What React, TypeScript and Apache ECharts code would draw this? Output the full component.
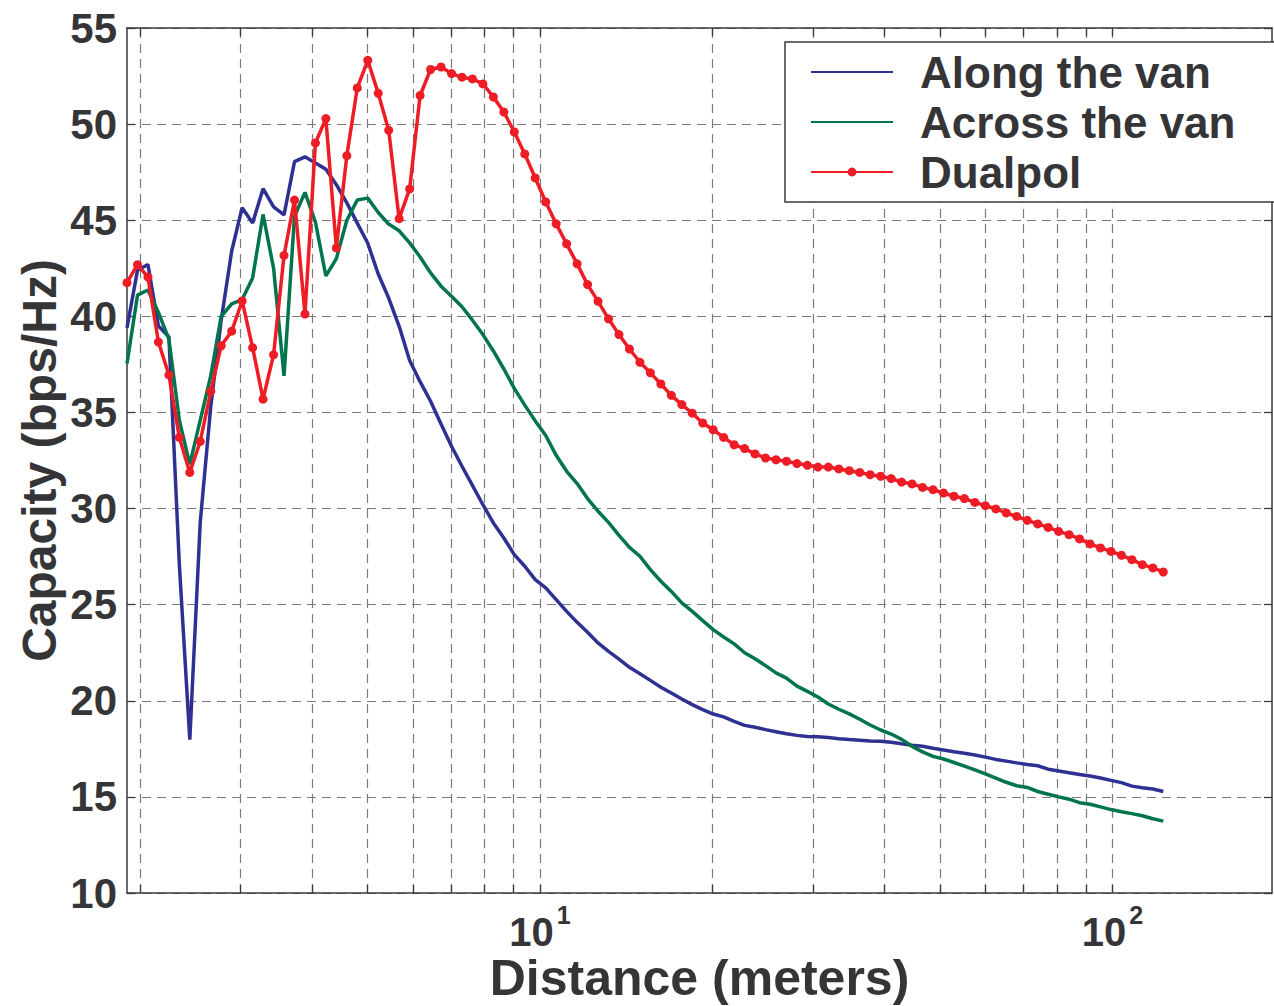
import React, { useEffect, useRef } from "react";
import * as echarts from "echarts";

// Sample distances (m) (log-spaced grid)
const distanceMeters = [
  1.9, 1.982, 2.067, 2.156, 2.249, 2.345, 2.446, 2.551, 2.661, 2.775,
  2.895, 3.019, 3.149, 3.284, 3.426, 3.573, 3.727, 3.887, 4.054, 4.228,
  4.41, 4.6, 4.797, 5.004, 5.219, 5.443, 5.677, 5.922, 6.176, 6.442,
  6.719, 7.008, 7.309, 7.623, 7.951, 8.293, 8.65, 9.021, 9.409, 9.814,
  10.236, 10.676, 11.135, 11.614, 12.113, 12.634, 13.177, 13.744, 14.335, 14.951,
  15.594, 16.265, 16.964, 17.694, 18.455, 19.248, 20.076, 20.939, 21.84, 22.779,
  23.758, 24.78, 25.845, 26.957, 28.116, 29.325, 30.586, 31.901, 33.273, 34.704,
  36.196, 37.752, 39.376, 41.069, 42.835, 44.677, 46.598, 48.602, 50.692, 52.871,
  55.145, 57.516, 59.989, 62.569, 65.259, 68.065, 70.992, 74.045, 77.229, 80.55,
  84.014, 87.626, 91.394, 95.324, 99.423, 103.7, 108.16, 112.81, 117.66, 122.72,
];

const alongTheVan = [
  39.4, 42.4, 42.7, 39.5, 38.93, 27.1, 17.98, 29.3, 35.3, 39.8,
  43.4, 45.65, 44.86, 46.64, 45.7, 45.28, 48.05, 48.3, 47.98, 47.65,
  46.85, 45.9, 44.85, 43.8, 42.2, 40.95, 39.48, 37.7, 36.6, 35.58,
  34.4, 33.24, 32.2, 31.21, 30.2, 29.25, 28.47, 27.6, 27.0, 26.3,
  25.87, 25.26, 24.65, 24.08, 23.56, 23.01, 22.57, 22.17, 21.74, 21.41,
  21.06, 20.7, 20.4, 20.09, 19.8, 19.54, 19.31, 19.16, 18.93, 18.72,
  18.62, 18.5, 18.39, 18.28, 18.2, 18.14, 18.13, 18.09, 18.02, 17.98,
  17.95, 17.91, 17.9, 17.84, 17.76, 17.69, 17.63, 17.53, 17.44, 17.35,
  17.27, 17.18, 17.07, 16.95, 16.86, 16.77, 16.69, 16.62, 16.44, 16.35,
  16.26, 16.16, 16.09, 15.98, 15.86, 15.74, 15.56, 15.48, 15.41, 15.28,
];

const acrossTheVan = [
  37.55, 41.1, 41.37, 40.2, 38.8, 34.6, 32.3, 34.6, 36.9, 40.0,
  40.65, 40.87, 42.0, 45.3, 42.5, 36.9, 45.2, 46.45, 44.9, 42.1,
  43.0, 45.0, 46.05, 46.15, 45.4, 44.8, 44.45, 43.82, 43.09, 42.26,
  41.57, 41.05, 40.5, 39.8, 39.05, 38.2, 37.26, 36.25, 35.38, 34.56,
  33.8, 32.77, 31.94, 31.3, 30.52, 29.86, 29.28, 28.61, 27.98, 27.52,
  26.82, 26.22, 25.69, 25.09, 24.65, 24.17, 23.7, 23.32, 22.96, 22.5,
  22.19, 21.83, 21.45, 21.18, 20.76, 20.49, 20.2, 19.83, 19.56, 19.32,
  19.04, 18.74, 18.48, 18.27, 17.99, 17.63, 17.34, 17.11, 16.97, 16.79,
  16.6, 16.41, 16.2, 15.98, 15.76, 15.58, 15.49, 15.28, 15.14, 15.0,
  14.88, 14.7, 14.62, 14.48, 14.34, 14.23, 14.13, 14.02, 13.86, 13.74,
];

const dualpol = [
  41.75, 42.69, 42.04, 38.66, 36.95, 33.7, 31.88, 33.49, 36.1, 38.47,
  39.23, 40.8, 38.37, 35.69, 38.0, 43.17, 46.05, 40.12, 49.02, 50.29,
  43.56, 48.36, 51.88, 53.32, 51.6, 49.68, 45.08, 46.63, 51.49, 52.84,
  52.97, 52.63, 52.44, 52.35, 52.09, 51.41, 50.63, 49.59, 48.45, 47.2,
  45.95, 44.81, 43.77, 42.73, 41.65, 40.78, 39.87, 39.05, 38.3, 37.61,
  37.06, 36.48, 35.89, 35.41, 34.96, 34.45, 34.1, 33.7, 33.32, 33.12,
  32.84, 32.63, 32.54, 32.46, 32.34, 32.25, 32.16, 32.16, 32.06, 31.97,
  31.88, 31.76, 31.68, 31.56, 31.38, 31.28, 31.1, 30.98, 30.81, 30.64,
  30.52, 30.32, 30.15, 29.98, 29.77, 29.59, 29.39, 29.2, 29.02, 28.81,
  28.64, 28.42, 28.16, 27.95, 27.77, 27.57, 27.34, 27.08, 26.91, 26.7,
];

// Axis settings
const xRange = [1.9, 190];
const yRange = [10, 55];
const yStep = 5;
const xGridValues = [2, 3, 4, 5, 6, 7, 8, 9, 10, 20, 30, 40, 50, 60, 70, 80, 90, 100];
const xTickLabels: Record<string, string> = { "10": "{b|10}{s|1}", "100": "{b|10}{s|2}" };
const tickLenY = 0.42; // inward tick length in y units

const seriesNames = ["Along the van", "Across the van", "Dualpol"];
const seriesColors = ["#2E3192", "#00744A", "#EE1C25"];

const FONT = "'Liberation Sans', Arial, Helvetica, sans-serif";
const TEXT = "#353538";
const AXIS = "#3a3a3a";
const W = 1274;
const H = 1006;

export default function App() {
  const ref = useRef<HTMLDivElement>(null);

  useEffect(() => {
    if (!ref.current) return;
    const chart = echarts.init(ref.current, null, { renderer: "svg", width: W, height: H });

    const toPairs = (vals: number[]) => distanceMeters.map((d, i) => [d, vals[i]]);

    const gridLines = xGridValues.map((v) => ({ xAxis: v }));
    const tickSegs: any[] = [];
    xGridValues.forEach((v) => {
      tickSegs.push([
        { coord: [v, yRange[0]], lineStyle: { type: "solid", color: AXIS, width: 1.3 } },
        { coord: [v, yRange[0] + tickLenY] },
      ]);
      tickSegs.push([
        { coord: [v, yRange[1]], lineStyle: { type: "solid", color: AXIS, width: 1.3 } },
        { coord: [v, yRange[1] - tickLenY] },
      ]);
    });

    const option: any = {
      animation: false,
      backgroundColor: "#ffffff",
      textStyle: { fontFamily: FONT },
      grid: { left: 127, right: 2, top: 28, bottom: 113, containLabel: false, outerBoundsMode: "none" },
      legend: {
        left: 785,
        top: 42,
        orient: "vertical",
        selectedMode: false,
        backgroundColor: "#ffffff",
        borderColor: "#3a3a3a",
        borderWidth: 1.5,
        borderRadius: 0,
        padding: [8, 60, 8, 25],
        itemGap: 6,
        itemWidth: 82,
        itemHeight: 11,
        data: [
          { name: seriesNames[0], itemStyle: { opacity: 0 } },
          { name: seriesNames[1], itemStyle: { opacity: 0 } },
          { name: seriesNames[2] },
        ],
        textStyle: {
          fontFamily: FONT,
          fontWeight: "bold",
          fontSize: 44,
          color: TEXT,
          padding: [0, 0, 0, 22],
        },
      },
      xAxis: [
        {
          type: "log",
          logBase: 10,
          min: xRange[0],
          max: xRange[1],
          name: "Distance (meters)",
          nameLocation: "middle",
          nameGap: 60,
          nameMoveOverlap: false,
          nameTextStyle: { fontFamily: FONT, fontWeight: "bold", fontSize: 50, color: TEXT },
          axisLine: { show: true, lineStyle: { color: AXIS, width: 1.5 } },
          axisTick: { show: false },
          splitLine: { show: false },
          minorTick: { show: false },
          axisLabel: {
            margin: 9,
            showMinLabel: false,
            showMaxLabel: false,
            formatter: (v: number) => {
              const key = String(Math.round(v));
              if (Math.abs(v - Math.round(v)) > 1e-6) return "";
              return xTickLabels[key] || "";
            },
            rich: {
              b: { fontFamily: FONT, fontWeight: "bold", fontSize: 40, color: TEXT, lineHeight: 50, verticalAlign: "bottom" },
              s: { fontFamily: FONT, fontWeight: "bold", fontSize: 25, color: TEXT, lineHeight: 18, verticalAlign: "top", padding: [0, 0, 0, 3] },
            },
          },
        },
        {
          type: "log",
          logBase: 10,
          min: xRange[0],
          max: xRange[1],
          position: "top",
          axisLine: { show: true, onZero: false, lineStyle: { color: AXIS, width: 1.5 } },
          axisTick: { show: false },
          axisLabel: { show: false },
          splitLine: { show: false },
        },
      ],
      yAxis: [
        {
          type: "value",
          min: yRange[0],
          max: yRange[1],
          interval: yStep,
          name: "Capacity (bps/Hz)",
          nameLocation: "middle",
          nameGap: 64,
          nameMoveOverlap: false,
          nameTextStyle: { fontFamily: FONT, fontWeight: "bold", fontSize: 48, color: TEXT },
          axisLine: { show: true, lineStyle: { color: AXIS, width: 1.5 } },
          axisTick: { show: true, inside: true, length: 8, lineStyle: { color: AXIS, width: 1.3 } },
          axisLabel: { margin: 10, fontFamily: FONT, fontWeight: "bold", fontSize: 42, color: TEXT },
          splitLine: { show: true, lineStyle: { color: "#7a7a7a", width: 1.2, type: [9, 6] } },
        },
        {
          type: "value",
          min: yRange[0],
          max: yRange[1],
          interval: yStep,
          position: "right",
          axisLine: { show: true, onZero: false, lineStyle: { color: AXIS, width: 1.5 } },
          axisTick: { show: true, inside: true, length: 8, lineStyle: { color: AXIS, width: 1.3 } },
          axisLabel: { show: false },
          splitLine: { show: false },
        },
      ],
      series: [
        {
          name: "__grid",
          type: "line",
          data: [],
          silent: true,
          z: 1,
          markLine: {
            z: 1,
            silent: true,
            symbol: ["none", "none"],
            label: { show: false },
            emphasis: { disabled: true },
            lineStyle: { color: "#7a7a7a", width: 1.2, type: [9, 6] },
            data: [...gridLines, ...tickSegs],
          },
        },
        {
          name: seriesNames[0],
          type: "line",
          data: toPairs(alongTheVan),
          symbol: "none",
          z: 3,
          lineStyle: { color: seriesColors[0], width: 3.5 },
          itemStyle: { color: seriesColors[0] },
        },
        {
          name: seriesNames[1],
          type: "line",
          data: toPairs(acrossTheVan),
          symbol: "none",
          z: 3,
          lineStyle: { color: seriesColors[1], width: 3.5 },
          itemStyle: { color: seriesColors[1] },
        },
        {
          name: seriesNames[2],
          type: "line",
          data: toPairs(dualpol),
          symbol: "circle",
          symbolSize: 9,
          showSymbol: true,
          z: 4,
          lineStyle: { color: seriesColors[2], width: 3.5 },
          itemStyle: { color: seriesColors[2] },
        },
      ],
    };

    chart.setOption(option);
    return () => chart.dispose();
  }, []);

  return (
    <div
      ref={ref}
      style={{ position: "fixed", left: 0, top: 0, width: W, height: H, background: "#fff", overflow: "hidden" }}
    />
  );
}
